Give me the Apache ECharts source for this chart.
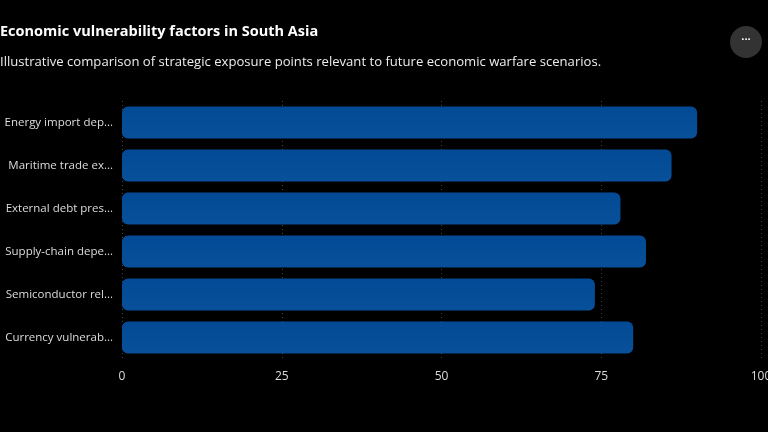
<!DOCTYPE html>
<html lang="en">
<head>
    <meta charset="UTF-8">
    <title>Economic vulnerability factors in South Asia</title>
    <script src="https://cdn.jsdelivr.net/npm/echarts@6/dist/echarts.min.js"></script>
    <style>
        html, body { margin: 0; padding: 0; background: #000; }
        #chart { width: 768px; height: 432px; }
    </style>
</head>
<body>
    <div id="chart"></div>
    <script>
        // categories, top to bottom
        const factors = [
            'Energy import dependence',
            'Maritime trade exposure',
            'External debt pressure',
            'Supply-chain dependence',
            'Semiconductor reliance',
            'Currency vulnerability'
        ];
        const scores = [90, 86, 78, 82, 74, 80];
        const xTicks = [0, 25, 50, 75, 100];

        const chart = echarts.init(document.getElementById('chart'));
        const font = '"Open Sans", "Noto Sans", sans-serif';

        chart.setOption({
            backgroundColor: '#000',
            textStyle: { fontFamily: font },
            title: [{
                text: 'Economic vulnerability factors in South Asia',
                left: 0, top: 24, padding: 0,
                textStyle: { color: '#fff', fontSize: 14.5, fontWeight: 'bold', fontFamily: font }
            }, {
                text: 'Illustrative comparison of strategic exposure points relevant to future economic warfare scenarios.',
                left: 0, top: 56, padding: 0,
                textStyle: { color: '#eee', fontSize: 13.1, fontWeight: 'normal', fontFamily: font }
            }],
            graphic: [{
                type: 'circle',
                shape: { cx: 746, cy: 42, r: 16 },
                style: { fill: '#333' }
            }, {
                type: 'text',
                x: 746, y: 40,
                style: { text: '···', fill: '#fff', font: 'bold 11px ' + font, align: 'center', verticalAlign: 'middle' }
            }],
            grid: { left: 122, right: 7, top: 101, height: 258, containLabel: false, outerBoundsMode: 'none' },
            xAxis: {
                type: 'value',
                min: 0, max: xTicks[xTicks.length - 1], interval: 25,
                axisLine: { show: false },
                axisTick: { show: false },
                axisLabel: { color: '#ddd', fontSize: 12, margin: 12 },
                splitLine: { lineStyle: { color: '#444', type: [1, 3] } }
            },
            yAxis: {
                type: 'category',
                inverse: true,
                data: factors,
                axisLine: { show: false },
                axisTick: { show: false },
                axisLabel: {
                    color: '#ddd', fontSize: 11.5, margin: 9,
                    width: 111, overflow: 'truncate', ellipsis: '...'
                }
            },
            series: [{
                type: 'bar',
                data: scores,
                barWidth: '74%',
                itemStyle: {
                    color: new echarts.graphic.LinearGradient(0, 0, 0, 1, [
                        { offset: 0, color: '#034a96' },
                        { offset: 1, color: '#085099' }
                    ]),
                    borderRadius: 6
                }
            }]
        });
    </script>
</body>
</html>
